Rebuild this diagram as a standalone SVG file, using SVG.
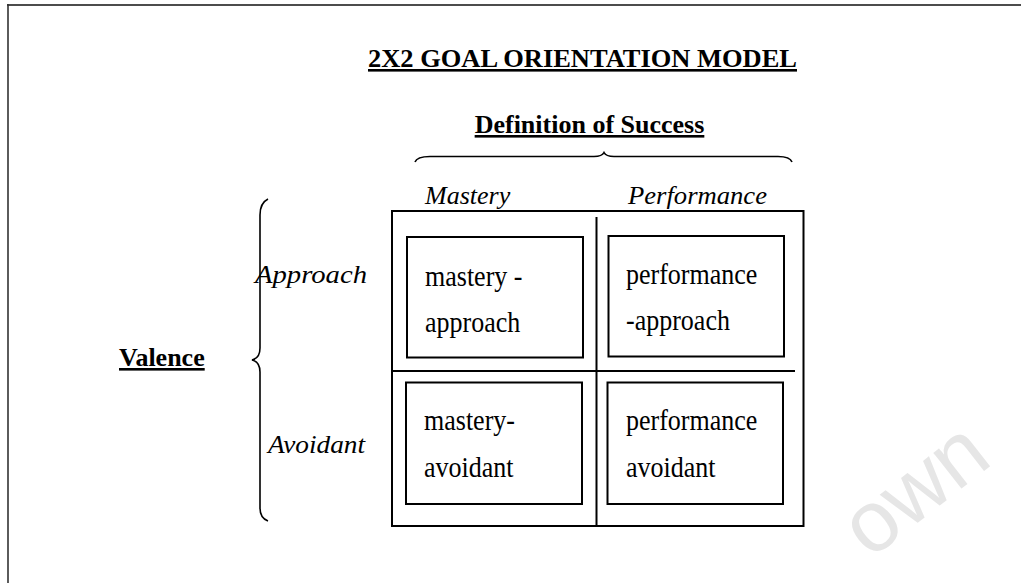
<svg xmlns="http://www.w3.org/2000/svg" width="1021" height="583" viewBox="0 0 1021 583">
  <style>
    .t { font-family: "Liberation Serif", "Times New Roman", serif; font-size: 26px; fill: #000; }
    .b { font-weight: bold; text-decoration: underline; }
    .i { font-style: italic; }
    .box { fill: none; stroke: #000; stroke-width: 2; }
    .ln { fill: none; stroke: #000; stroke-width: 2; }
    .br { fill: none; stroke: #000; stroke-width: 1.6; }
  </style>
  <rect x="0" y="0" width="1021" height="583" fill="#fff"/>
  <g id="watermark">
    <text x="870" y="560" transform="rotate(-38 870 560)" font-family="Liberation Sans, Arial, sans-serif" font-size="86" fill="#e6e6e6">own</text>
  </g>
  <g id="frame">
    <line x1="7" y1="5" x2="1021" y2="5" stroke="#111" stroke-width="1.6"/>
    <line x1="8" y1="4" x2="8" y2="583" stroke="#333" stroke-width="1.6"/>
  </g>
  <g id="title">
    <text class="t b" x="582.5" y="67" text-anchor="middle" textLength="429" lengthAdjust="spacingAndGlyphs">2X2 GOAL ORIENTATION MODEL</text>
  </g>
  <g id="definition">
    <text class="t b" x="589.5" y="133" text-anchor="middle">Definition of Success</text>
  </g>
  <g id="valence">
    <text class="t b" x="119" y="366">Valence</text>
  </g>
  <g id="labels">
    <text class="t i" x="425" y="204">Mastery</text>
    <text class="t i" x="628" y="204" textLength="139" lengthAdjust="spacingAndGlyphs">Performance</text>
    <text class="t i" x="255" y="283" textLength="112" lengthAdjust="spacingAndGlyphs">Approach</text>
    <text class="t i" x="268" y="453" textLength="97" lengthAdjust="spacingAndGlyphs">Avoidant</text>
  </g>
  <g id="connectors">
    <path class="br" d="M415,162 Q417,156.5 430,156.5 L594,156.5 Q602,156.5 604,152.5 Q606,156.5 614,156.5 L778,156.5 Q790,156.5 792,162"/>
    <path class="br" d="M268,199 Q260,203 260,215 L260,348 Q260,358 252,360 Q260,362 260,372 L260,508 Q260,518 268,521"/>
  </g>
  <g id="grid">
    <rect class="box" x="392" y="211" width="411.5" height="315"/>
    <line class="ln" x1="596.5" y1="217" x2="596.5" y2="526"/>
    <line class="ln" x1="392" y1="371" x2="795" y2="371"/>
  </g>
  <g id="mastery-approach">
    <rect class="box" x="407" y="237" width="176" height="120.5"/>
    <text class="t" transform="translate(425 286) scale(1 1.1)">mastery -</text>
    <text class="t" transform="translate(425 332) scale(1 1.1)">approach</text>
  </g>
  <g id="performance-approach">
    <rect class="box" x="608.5" y="236" width="175.5" height="120.5"/>
    <text class="t" transform="translate(626 284) scale(1 1.1)">performance</text>
    <text class="t" transform="translate(626 330) scale(1 1.1)">-approach</text>
  </g>
  <g id="mastery-avoidant">
    <rect class="box" x="406" y="382.5" width="176" height="121.5"/>
    <text class="t" transform="translate(424 430) scale(1 1.1)">mastery-</text>
    <text class="t" transform="translate(424 477) scale(1 1.1)">avoidant</text>
  </g>
  <g id="performance-avoidant">
    <rect class="box" x="607.5" y="382.5" width="175.5" height="121.5"/>
    <text class="t" transform="translate(626 430) scale(1 1.1)">performance</text>
    <text class="t" transform="translate(626 477) scale(1 1.1)">avoidant</text>
  </g>
</svg>
